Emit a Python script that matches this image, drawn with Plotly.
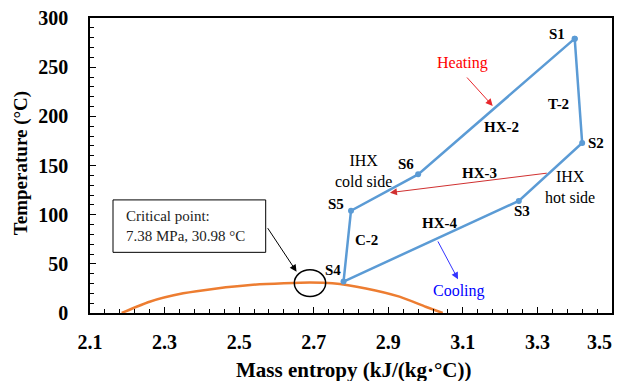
import plotly.graph_objects as go

# Cycle state points (S1..S6 then back to S1)
state_labels = ["S1", "S2", "S3", "S4", "S5", "S6"]
cycle_s = [3.40, 3.42, 3.25, 2.78, 2.80, 2.98]
cycle_T = [279, 173, 114, 32, 104, 141]

# Saturation dome of CO2
dome_s = [2.185, 2.26, 2.35, 2.44, 2.53, 2.62, 2.69, 2.75, 2.84, 2.93, 3.00, 3.046]
dome_T = [0, 11.5, 20, 25, 28.5, 30.2, 31.0, 30.2, 25, 16.6, 6.4, 0]

x_ticks = [2.1, 2.3, 2.5, 2.7, 2.9, 3.1, 3.3, 3.5]
y_ticks = [0, 50, 100, 150, 200, 250, 300]

SERIF = "Liberation Serif"
BLUE = "#5B9BD5"
ORANGE = "#ED7D31"

fig = go.Figure()
fig.add_trace(go.Scatter(x=dome_s, y=dome_T, mode="lines",
                         line=dict(color=ORANGE, width=2.5, shape="spline", smoothing=0.6),
                         hoverinfo="skip", showlegend=False, cliponaxis=True))
fig.add_trace(go.Scatter(x=cycle_s + cycle_s[:1], y=cycle_T + cycle_T[:1], mode="lines+markers",
                         line=dict(color=BLUE, width=2.5), marker=dict(color=BLUE, size=6),
                         showlegend=False))

ann = []
def lab(x, y, t, bold=True, color="black", size=15):
    ann.append(dict(x=x, y=y, text=(f"<b>{t}</b>" if bold else t), showarrow=False,
                    font=dict(family=SERIF, size=size, color=color), xref="x", yref="y"))

label_pos = {"S1": (3.3515, 283.5), "S2": (3.456, 172.6), "S3": (3.2574, 104),
             "S4": (2.7522, 43.7), "S5": (2.7597, 110.9), "S6": (2.9474, 151.3)}
for k in state_labels:
    lab(*label_pos[k], k)
lab(3.3556, 212.6, "T-2")
lab(3.2038, 189.5, "HX-2")
lab(3.1459, 142.7, "HX-3")
lab(3.0365, 91.3, "HX-4")
lab(2.8418, 74.3, "C-2")
lab(2.833, 144.5, "IHX<br>cold side", bold=False, size=16)
lab(3.387, 127.7, "IHX<br>hot side", bold=False, size=16)
lab(3.098, 254.6, "Heating", bold=False, color="#FF0000", size=16)
lab(3.0895, 22.4, "Cooling", bold=False, color="#0000FF", size=16)

def arrow(x0, y0, x1, y1, color, width=1, head=2, size=1.2):
    ann.append(dict(x=x1, y=y1, ax=x0, ay=y0, xref="x", yref="y", axref="x", ayref="y",
                    showarrow=True, arrowhead=head, arrowsize=size, arrowwidth=width,
                    arrowcolor=color, text=""))

arrow(3.1075, 241, 3.18, 210.6, "#E8262B", 1, 2, 1.4)
arrow(3.329, 142.4, 2.9045, 122.4, "#D03030", 1, 2, 1.4)
arrow(3.031, 74.3, 3.087, 34.3, "#3333FF", 1, 2, 1.4)
arrow(2.574, 87.8, 2.654, 42, "#000000", 1, 2, 1.4)

ann.append(dict(x=2.192, y=88.5, xref="x", yref="y", xanchor="left", yanchor="middle",
                align="left", showarrow=False,
                text="Critical point:<br>7.38 MPa, 30.98 °C",
                font=dict(family=SERIF, size=15, color="#222222")))

# Axis titles
ann.append(dict(x=0.5067, y=0, xref="paper", yref="paper", yshift=-57, xanchor="center",
                yanchor="middle", showarrow=False, text="<b>Mass entropy (kJ/(kg·°C))</b>",
                font=dict(family=SERIF, size=21, color="black")))
ann.append(dict(x=0, y=0.508, xref="paper", yref="paper", xshift=-69, xanchor="center",
                yanchor="middle", showarrow=False, textangle=-90, text="<b>Temperature (°C)</b>",
                font=dict(family=SERIF, size=19, color="black")))

fig.add_shape(type="rect", x0=2.1617, x1=2.5712, y0=61.7, y1=115, xref="x", yref="y",
              line=dict(color="black", width=1), fillcolor="rgba(0,0,0,0)")
fig.add_shape(type="circle", x0=2.648, x1=2.732, y0=16.8, y1=44, xref="x", yref="y",
              line=dict(color="black", width=1.5))

# last x tick label padded so it stays inside the page edge, as in the reference
x_ticktext = [f"<b>{v:.1f}</b>" for v in x_ticks]
x_ticktext[-1] = x_ticktext[-1] + "&nbsp;" * 5

axis_common = dict(showgrid=False, zeroline=False, showline=True, linecolor="black",
                   linewidth=1.5, mirror=True, ticks="inside", ticklen=6, tickcolor="black",
                   automargin=False, ticklabeloverflow="allow",
                   tickfont=dict(family=SERIF, size=20, color="black"))
fig.update_xaxes(range=[2.1, 3.5], tickvals=x_ticks, ticktext=x_ticktext,
                 minor=dict(ticks="inside", ticklen=4, dtick=0.04, tick0=2.1, tickcolor="black"),
                 ticklabelstandoff=10, **axis_common)
fig.update_yaxes(range=[0, 300], tickvals=y_ticks, ticktext=[f"<b>{v}</b>" for v in y_ticks],
                 minor=dict(ticks="inside", ticklen=4, dtick=10, tick0=0, tickcolor="black"),
                 ticklabelstandoff=16, **axis_common)
# The page body adds an 8px offset; size the figure so the plot area lands where the reference has it
fig.update_layout(width=615, height=373, margin=dict(l=82, r=11, t=10, b=68),
                  plot_bgcolor="white", paper_bgcolor="white", annotations=ann)
fig.write_html("out.html")
